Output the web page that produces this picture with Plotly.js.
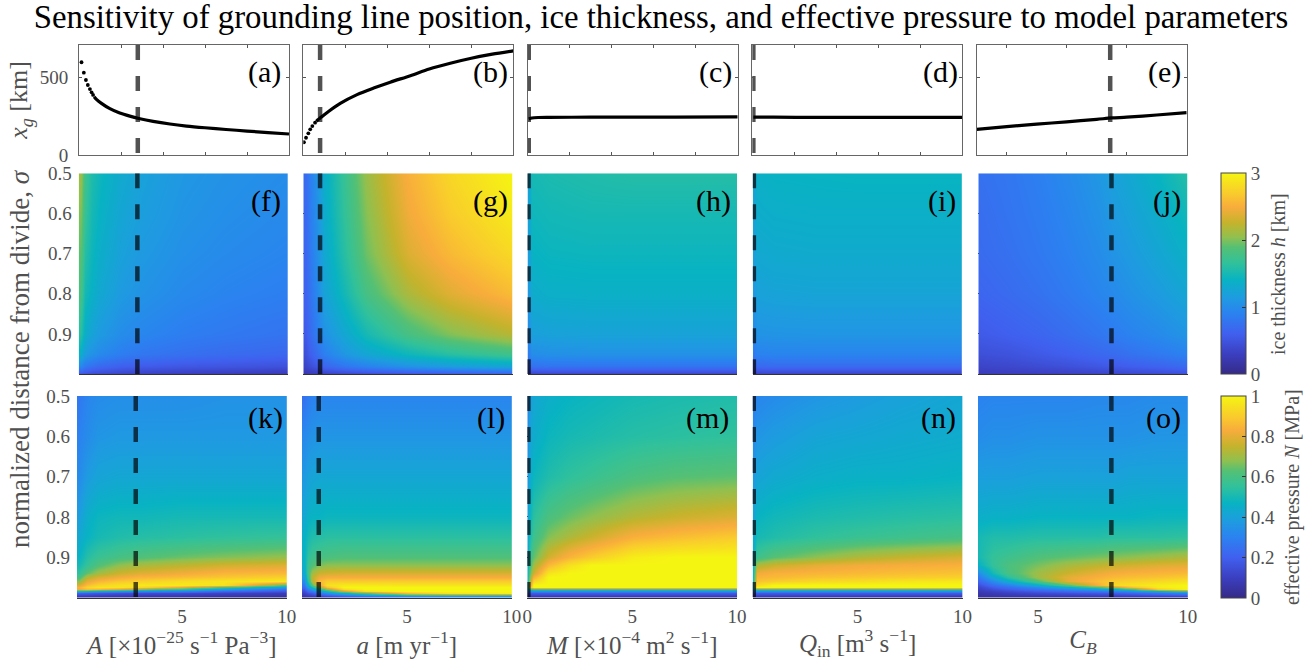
<!DOCTYPE html>
<html><head><meta charset="utf-8">
<script src="https://cdn.plot.ly/plotly-3.0.1.min.js"></script>
<style>html,body{margin:0;padding:0;background:#fff}</style></head>
<body><div id="chart" style="width:1315px;height:661px"></div>
<script>
// ---------- read values ----------
const panelLetters = ['a','b','c','d','e','f','g','h','i','j','k','l','m','n','o'];
const xTitles = ['<i>A</i> [×10<sup>−25</sup> s<sup>−1</sup> Pa<sup>−3</sup>]','<i>a</i> [m yr<sup>−1</sup>]','<i>M</i> [×10<sup>−4</sup> m<sup>2</sup> s<sup>−1</sup>]','<i>Q</i><sub>in</sub> [m<sup>3</sup> s<sup>−1</sup>]','<i>C<sub>B</sub></i>'];
const nominal = [2.8, 0.8, 0.05, 0.05, 7.45];
const xRanges = [[0,10],[0,10],[0,10],[0,10],[3,10]];

// grounding-line position x_g [km]
const xgA_sparseX=[.12,.23,.33,.42,.52,.6,.67], xgA_sparseY=[596,529,482,450,424,403,386];
const xgA_X=[.72,.83,1.07,1.47,1.94,2.42,2.85,3.53,4.33,5.12,6,7,8,9,10];
const xgA_Y=[375,358,332,298,270,250,235,216,199,186,175,164,154,144,135];
const xgB_sparseX=[.03,.13,.24,.33,.43,.56], xgB_sparseY=[82,111,139,165,186,208];
const xgB_X=[.62,.68,.84,1.2,1.76,2.56,3.35,4.14,5.1,6,7,8,9,10];
const xgB_Y=[216,225,242,280,332,388,430,468,510,553,590,622,648,669];
const xgC_X=[.05,.2,.5,1,3,5,7,10], xgC_Y=[232,238,241,242,243,244,244,245];
const xgD_X=[.05,.5,1,3,5,7,10], xgD_Y=[244,243,243,242,242,242,242];
const xgE_X=[3,4,5,6,7,7.5,8,9,10], xgE_Y=[165,182,198,213,229,238,243,257,272];

// ice thickness h [km]
const sigmaH=[.5,.6,.7,.8,.9,.95,.98,1];
const hAx=[.1,.3,.6,1,2,3,5,7,10];
const hA=[[2.1,1.75,1.55,1.45,1.3,1.2,1.1,1.05,1.0],[2.0,1.7,1.5,1.4,1.25,1.17,1.07,1.02,.97],[1.9,1.6,1.45,1.35,1.2,1.12,1.03,.98,.93],[1.8,1.5,1.38,1.28,1.13,1.06,.97,.92,.87],[1.6,1.35,1.22,1.13,1.0,.94,.86,.82,.77],[1.35,1.15,1.05,.97,.86,.8,.74,.7,.66],[.95,.82,.74,.68,.6,.56,.52,.5,.47],[.5,.45,.4,.37,.33,.3,.27,.25,.23]];
const hBx=[.1,.3,.6,1,2,3,5,7,10];
const hB=[[.7,.85,1.05,1.35,1.72,2.08,2.52,2.78,3.0],[.68,.83,1.02,1.32,1.68,2.02,2.46,2.7,2.93],[.65,.8,1.0,1.28,1.62,1.95,2.36,2.58,2.8],[.62,.75,.95,1.22,1.5,1.8,2.15,2.38,2.6],[.55,.68,.85,1.05,1.28,1.5,1.8,2.0,2.2],[.45,.58,.72,.88,1.1,1.25,1.45,1.6,1.75],[.35,.42,.52,.65,.8,.9,1.05,1.15,1.25],[.2,.22,.25,.3,.35,.4,.45,.5,.55]];
const hCx=[.05,.2,1,3,5,7,10];
const hC=[[1.2,1.5,1.53,1.56,1.58,1.58,1.58],[1.2,1.45,1.48,1.5,1.5,1.5,1.5],[1.15,1.4,1.43,1.44,1.44,1.44,1.44],[1.1,1.32,1.36,1.37,1.37,1.37,1.37],[1.0,1.18,1.2,1.21,1.21,1.21,1.21],[.85,1.0,1.03,1.04,1.04,1.04,1.04],[.65,.75,.78,.78,.78,.78,.78],[.3,.33,.35,.35,.35,.35,.35]];
const hDx=[.05,.2,1,3,5,7,10];
const hD=[[1.25,1.37,1.4,1.41,1.42,1.42,1.42],[1.22,1.33,1.35,1.36,1.36,1.36,1.36],[1.18,1.28,1.3,1.31,1.31,1.31,1.31],[1.1,1.2,1.22,1.23,1.23,1.23,1.23],[.98,1.06,1.07,1.08,1.08,1.08,1.08],[.82,.9,.92,.92,.92,.92,.92],[.6,.68,.7,.7,.7,.7,.7],[.28,.32,.33,.33,.33,.33,.33]];
const hEx=[3,4,5,6,7,7.5,8,9,10];
const hE=[[.75,.8,.88,.98,1.1,1.2,1.27,1.42,1.6],[.72,.78,.85,.94,1.05,1.13,1.2,1.33,1.48],[.7,.75,.82,.9,1.0,1.07,1.13,1.25,1.38],[.65,.7,.76,.84,.93,.98,1.04,1.14,1.26],[.55,.6,.65,.72,.8,.85,.9,.98,1.08],[.45,.48,.54,.6,.67,.7,.75,.82,.9],[.35,.38,.42,.46,.52,.55,.58,.63,.7],[.25,.27,.28,.3,.33,.35,.37,.4,.45]];

// effective pressure N [MPa]
const sigmaN=[.5,.6,.7,.8,.85,.9,.92,.94,.95,.96,.97,.975,.98,.985,.99,1];
const nAx=[.1,.5,1,2,3,5,7,10];
const nA=[[.27,.31,.33,.34,.34,.34,.35,.35],[.3,.33,.36,.37,.37,.37,.37,.37],[.33,.38,.41,.42,.42,.42,.42,.42],[.39,.45,.48,.49,.49,.5,.5,.5],[.43,.47,.5,.52,.53,.54,.55,.56],[.47,.53,.57,.6,.62,.65,.67,.69],[.5,.56,.62,.68,.71,.74,.77,.79],[.55,.64,.7,.76,.79,.82,.85,.86],[.6,.73,.78,.82,.85,.87,.89,.91],[.68,.8,.85,.89,.91,.94,.96,.97],[.78,.87,.92,.95,.97,.97,.95,.6],[.84,.92,.96,.96,.93,.8,.6,.38],[.82,.87,.85,.78,.68,.55,.4,.25],[.5,.48,.42,.36,.32,.3,.22,.17],[.2,.19,.17,.15,.14,.13,.11,.09],[.02,.02,.02,.02,.02,.02,.02,.02]];
const nBx=[.1,.3,.5,.8,1.2,2,3,5,7,10];
const nB=[[.25,.28,.3,.31,.31,.31,.31,.31,.31,.31],[.32,.34,.35,.36,.36,.36,.36,.36,.36,.36],[.37,.4,.41,.42,.42,.42,.42,.42,.42,.42],[.42,.46,.47,.47,.48,.48,.48,.48,.48,.48],[.46,.5,.52,.53,.54,.54,.54,.54,.54,.54],[.46,.55,.58,.6,.61,.62,.62,.62,.62,.62],[.45,.58,.62,.66,.68,.68,.68,.68,.68,.68],[.42,.6,.7,.76,.77,.78,.78,.78,.78,.78],[.38,.58,.74,.81,.83,.83,.83,.83,.83,.83],[.33,.55,.72,.86,.9,.9,.9,.9,.9,.9],[.27,.45,.62,.8,.95,.97,.97,.96,.96,.96],[.23,.38,.5,.68,.88,1,1,1,1,1],[.18,.3,.38,.52,.7,.94,1,1,1,1],[.14,.22,.28,.38,.5,.75,.94,1,1,1],[.1,.15,.18,.25,.33,.45,.6,.85,.95,.98],[.03,.03,.03,.03,.03,.03,.03,.03,.03,.03]];
const nCx=[.02,.1,.3,1,2,3,5,7,10];
const nC=[[.3,.38,.42,.45,.47,.48,.5,.51,.52],[.32,.4,.44,.48,.5,.51,.53,.54,.55],[.34,.43,.48,.52,.55,.57,.61,.63,.64],[.36,.47,.54,.61,.65,.68,.73,.76,.79],[.38,.5,.58,.67,.72,.76,.84,.87,.9],[.4,.55,.64,.77,.85,.9,.98,1,1],[.42,.58,.7,.86,.95,1,1,1,1],[.44,.62,.76,.96,1,1,1,1,1],[.45,.65,.84,1,1,1,1,1,1],[.46,.68,.92,1,1,1,1,1,1],[.48,.72,1,1,1,1,1,1,1],[.48,.8,1,1,1,1,1,1,1],[.4,.55,.62,.62,.62,.62,.62,.62,.62],[.3,.32,.35,.35,.35,.35,.35,.35,.35],[.16,.18,.18,.18,.18,.18,.18,.18,.18],[.03,.03,.03,.03,.03,.03,.03,.03,.03]];
const nDx=[.02,.2,1,3,5,7,10];
const nD=[[.28,.31,.33,.36,.38,.4,.42],[.32,.36,.38,.41,.42,.43,.44],[.36,.41,.43,.45,.46,.46,.47],[.4,.47,.49,.51,.52,.53,.54],[.42,.5,.52,.55,.57,.58,.6],[.44,.58,.63,.68,.72,.75,.78],[.45,.72,.76,.8,.82,.83,.84],[.46,.82,.84,.85,.86,.87,.88],[.47,.85,.86,.88,.89,.9,.91],[.48,.88,.9,.93,.94,.96,.97],[.48,.94,1,1,1,1,1],[.46,1,1,1,1,1,1],[.4,.62,.62,.62,.62,.62,.62],[.3,.35,.35,.35,.35,.35,.35],[.16,.18,.18,.18,.18,.18,.18],[.03,.03,.03,.03,.03,.03,.03]];
const nEx=[3,3.5,4,5,6,7,7.5,8,9,10];
const nE=[[.3,.31,.31,.31,.31,.32,.32,.32,.33,.33],[.33,.34,.34,.35,.35,.35,.35,.35,.36,.36],[.39,.39,.39,.4,.4,.4,.4,.41,.41,.41],[.45,.46,.46,.47,.47,.47,.47,.47,.48,.48],[.5,.52,.52,.53,.53,.53,.54,.54,.54,.55],[.5,.56,.58,.62,.64,.66,.67,.68,.7,.72],[.46,.56,.61,.66,.71,.74,.76,.77,.79,.8],[.33,.5,.6,.7,.76,.81,.83,.84,.85,.86],[.27,.42,.54,.7,.8,.84,.86,.87,.88,.9],[.21,.33,.44,.62,.8,.87,.9,.91,.93,.95],[.15,.24,.3,.44,.62,.83,.93,.95,.98,1],[.12,.19,.24,.33,.45,.6,.72,.85,.98,1],[.1,.15,.19,.26,.33,.4,.45,.55,.9,1],[.08,.11,.14,.19,.23,.27,.3,.33,.45,.6],[.06,.08,.1,.13,.15,.17,.18,.2,.25,.3],[.03,.03,.03,.03,.03,.03,.03,.03,.03,.03]];

const cmap=[[0,'#352a87'],[.1,'#3b3fc0'],[.2,'#4060ef'],[.3,'#2b82f0'],[.38,'#1e9ce0'],[.47,'#08b3c2'],[.55,'#30c19c'],[.63,'#55c074'],[.68,'#90c050'],[.75,'#c4b32c'],[.83,'#f8ac3c'],[.9,'#f9cc2c'],[1,'#f5f512']];

// ---------- layout geometry in pixels ----------
const W=1315,H=661;
const rowBoxes=[
 {top:45,bottom:155,lefts:[79,303.3,527.7,752.3,976.7],w:210},
 {top:173.3,bottom:374,lefts:[78.7,303.3,527.5,752.8,978.3],w:209.5},
 {top:396,bottom:597.5,lefts:[77,302,527.3,752.7,978],w:209.8}];
const labelRight=[[281,508,732,958,1181],[281,508,731,956,1181],[283,505,729,956,1181]];
const labelY=[72,201,418];
const px=x=>x/W, py=y=>1-y/H;
const greyText='#505050', serif='"Liberation Serif","Times New Roman",serif';
const tickFont={family:serif,size:19,color:greyText};

const layout={width:W,height:H,margin:{l:0,r:0,t:0,b:0},paper_bgcolor:'#fff',plot_bgcolor:'#fff',showlegend:false,
 font:{family:serif,color:greyText},
 title:{text:'Sensitivity of grounding line position, ice thickness, and effective pressure to model parameters',font:{family:serif,size:32.8,color:'#000'},x:661/W,xanchor:'center',xref:'paper',y:1-17/H,yanchor:'middle'},
 annotations:[],
 coloraxis:{cmin:0,cmax:3,colorscale:cmap,colorbar:{x:1221/W,xanchor:'left',y:py(173.3),yanchor:'top',lenmode:'pixels',len:200.7,thicknessmode:'pixels',thickness:25,xpad:0,ypad:0,tickvals:[0,1,2,3],ticks:'inside',ticklen:4,tickcolor:'#333',outlinecolor:'#444',outlinewidth:1,tickfont:tickFont}},
 coloraxis2:{cmin:0,cmax:1,colorscale:cmap,colorbar:{x:1221/W,xanchor:'left',y:py(396),yanchor:'top',lenmode:'pixels',len:201.5,thicknessmode:'pixels',thickness:25,xpad:0,ypad:0,tickvals:[0,.2,.4,.6,.8,1],ticktext:['0','0.2','0.4','0.6','0.8','1'],ticks:'inside',ticklen:4,tickcolor:'#333',outlinecolor:'#444',outlinewidth:1,tickfont:tickFont}}
};

const data=[];
const dashStyle={color:'rgba(0,0,0,0.68)',width:4.5,dash:'15px,16px'};
function sub(r,c){return 5*r+c+1;}
function ax(prefix,n){return prefix+(n===1?'':n);}

for(let r=0;r<3;r++){for(let c=0;c<5;c++){
  const n=sub(r,c),b=rowBoxes[r],left=b.lefts[c];
  const xa={domain:[px(left),px(left+b.w)],range:xRanges[c],anchor:ax('y',n),showgrid:false,zeroline:false,tickfont:tickFont,layer:'above traces'};
  const ya={domain:[py(b.bottom),py(b.top)],anchor:ax('x',n),showgrid:false,zeroline:false,tickfont:tickFont,layer:'above traces'};
  if(r===0){
    Object.assign(xa,{tickvals:c===4?[4,6,8,10]:[2,4,6,8,10],ticks:'inside',ticklen:3,tickcolor:'#555',showticklabels:false,showline:true,linecolor:'#666',linewidth:1,mirror:'ticks'});
    Object.assign(ya,{range:[0,707],tickvals:[0,500],ticks:'inside',ticklen:3,tickcolor:'#555',showticklabels:c===0,ticklabelstandoff:6,showline:true,linecolor:'#666',linewidth:1,mirror:'ticks'});
    if(c===0){ya.title={text:'<i>x<sub>g</sub></i> [km]',font:{family:serif,size:26,color:greyText},standoff:4};}
  } else {
    Object.assign(xa,{showline:true,linecolor:'#333',linewidth:1,ticks:'',showticklabels:r===2});
    if(r===2){xa.tickvals=c===2?[0,5,10]:[5,10];xa.ticktext=c===2?['0','5','10']:['5','10'];xa.ticklabelstandoff=2;
      xa.title={text:xTitles[c],font:{family:serif,size:25,color:greyText},standoff:4};}
    Object.assign(ya,{range:[1,.5],tickvals:[.5,.6,.7,.8,.9],ticktext:['0.5','0.6','0.7','0.8','0.9'],ticks:'inside',ticklen:3,tickcolor:'#333',layer:'below traces',showticklabels:c===0,ticklabelstandoff:6});
  }
  layout[ax('xaxis',n)]=xa; layout[ax('yaxis',n)]=ya;
  layout.annotations.push({xref:'paper',yref:'paper',x:px(labelRight[r][c]),y:py(labelY[r]),xanchor:'right',yanchor:'middle',showarrow:false,text:'('+panelLetters[n-1]+')',font:{family:serif,size:30,color:'#000'},borderpad:0,borderwidth:0});
}}

const xgSets=[[xgA_X,xgA_Y,xgA_sparseX,xgA_sparseY],[xgB_X,xgB_Y,xgB_sparseX,xgB_sparseY],[xgC_X,xgC_Y],[xgD_X,xgD_Y],[xgE_X,xgE_Y]];
xgSets.forEach((s,c)=>{
  const n=sub(0,c);
  data.push({type:'scatter',mode:'lines',x:s[0],y:s[1],xaxis:ax('x',n),yaxis:ax('y',n),line:{color:'#000',width:3.2,shape:'spline',smoothing:0.8},hoverinfo:'skip'});
  if(s[2])data.push({type:'scatter',mode:'markers',x:s[2],y:s[3],xaxis:ax('x',n),yaxis:ax('y',n),marker:{color:'#000',size:3.8},hoverinfo:'skip'});
});
const hSets=[[hAx,hA],[hBx,hB],[hCx,hC],[hDx,hD],[hEx,hE]];
const nSets=[[nAx,nA],[nBx,nB],[nCx,nC],[nDx,nD],[nEx,nE]];
hSets.forEach((s,c)=>{const n=sub(1,c);data.push({type:'heatmap',x:s[0],y:sigmaH,z:s[1],xaxis:ax('x',n),yaxis:ax('y',n),coloraxis:'coloraxis',zsmooth:'best',hoverinfo:'skip'});});
nSets.forEach((s,c)=>{const n=sub(2,c);data.push({type:'heatmap',x:s[0],y:sigmaN,z:s[1],xaxis:ax('x',n),yaxis:ax('y',n),coloraxis:'coloraxis2',zsmooth:'best',hoverinfo:'skip'});});
for(let r=0;r<3;r++)for(let c=0;c<5;c++){
  const n=sub(r,c);
  const yEnds=r===0?[707,0]:[.5,1];
  data.push({type:'scatter',mode:'lines',x:[nominal[c],nominal[c]],y:yEnds,xaxis:ax('x',n),yaxis:ax('y',n),line:dashStyle,hoverinfo:'skip'});
}
layout.annotations.push(
 {xref:'paper',yref:'paper',x:px(20),y:py(359),xanchor:'center',yanchor:'middle',textangle:-90,showarrow:false,text:'normalized distance from divide, <i>σ</i>',font:{family:serif,size:27,color:greyText}},
 {xref:'paper',yref:'paper',x:px(1278),y:py(274),xanchor:'center',yanchor:'middle',textangle:-90,showarrow:false,text:'ice thickness <i>h</i> [km]',font:{family:serif,size:20,color:greyText}},
 {xref:'paper',yref:'paper',x:px(1292),y:py(497),xanchor:'center',yanchor:'middle',textangle:-90,showarrow:false,text:'effective pressure <i>N</i> [MPa]',font:{family:serif,size:20,color:greyText}}
);
Plotly.newPlot('chart',data,layout,{displayModeBar:false,staticPlot:true});
</script></body></html>
